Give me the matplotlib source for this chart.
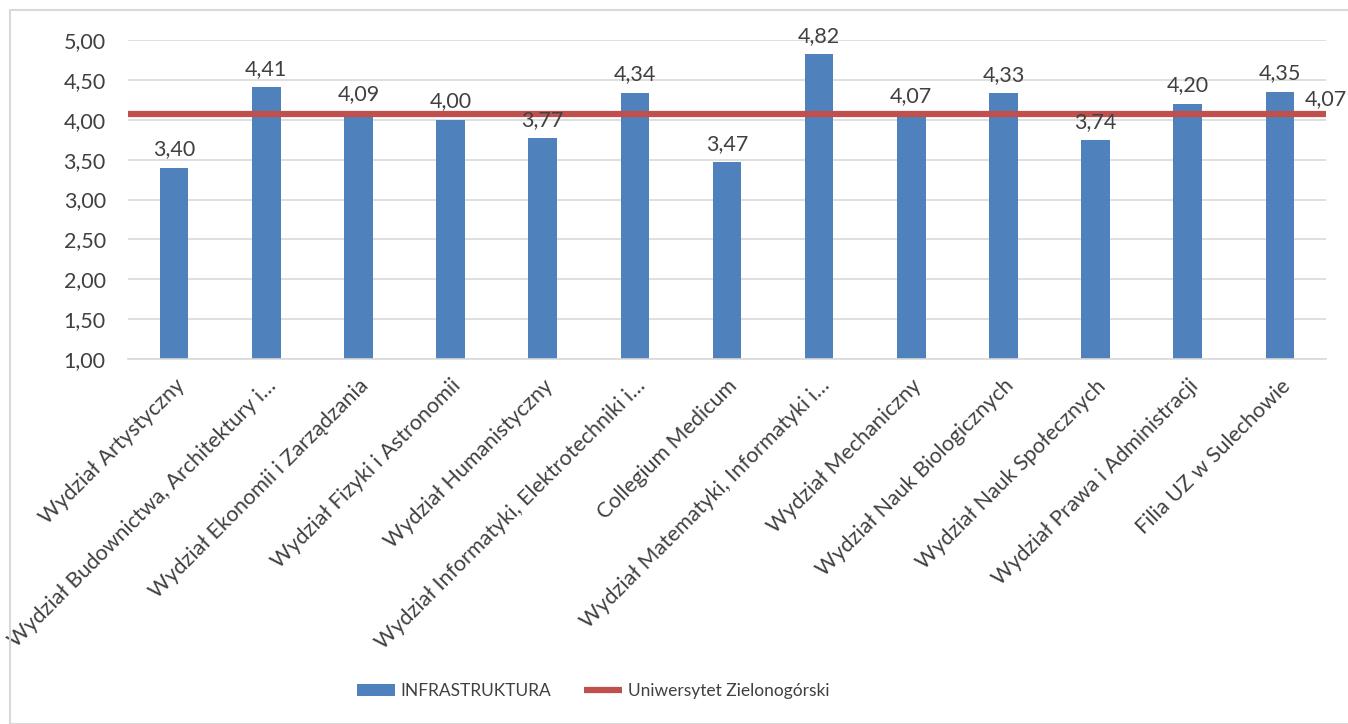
import matplotlib.pyplot as plt
from matplotlib.patches import Rectangle

categories = [
    "Wydział Artystyczny",
    "Wydział Budownictwa, Architektury i…",
    "Wydział Ekonomii i Zarządzania",
    "Wydział Fizyki i Astronomii",
    "Wydział Humanistyczny",
    "Wydział Informatyki, Elektrotechniki i…",
    "Collegium Medicum",
    "Wydział Matematyki, Informatyki i…",
    "Wydział Mechaniczny",
    "Wydział Nauk Biologicznych",
    "Wydział Nauk Społecznych",
    "Wydział Prawa i Administracji",
    "Filia UZ w Sulechowie",
]
infrastruktura = [3.40, 4.41, 4.09, 4.00, 3.77, 4.34, 3.47, 4.82, 4.07, 4.33, 3.74, 4.20, 4.35]
uz_mean = 4.07
y_ticks = [1.0, 1.5, 2.0, 2.5, 3.0, 3.5, 4.0, 4.5, 5.0]

plt.rcParams['font.family'] = ['Lato', 'DejaVu Sans']
txt = '#404040'

fig = plt.figure(figsize=(13.48, 7.24), dpi=100)
fig.patches.append(Rectangle((10 / 1348, 0), 1, 1 - 10 / 724, transform=fig.transFigure,
                             fill=False, edgecolor='#d9d9d9', linewidth=1.5))
ax = fig.add_axes([128 / 1348, 1 - 359 / 724, 1198 / 1348, 319 / 724])

x = list(range(len(categories)))
bars = ax.bar(x, [v - 1 for v in infrastruktura], bottom=1, width=0.31,
              color='#4f81bd', label='INFRASTRUKTURA', zorder=2)
line, = ax.plot([-0.5, len(categories) - 0.5], [uz_mean, uz_mean], color='#c0504d',
                linewidth=4.5, label='Uniwersytet Zielonogórski', zorder=3,
                solid_capstyle='butt', clip_on=False)

for xi, v in zip(x, infrastruktura):
    ax.annotate(f"{v:.2f}".replace('.', ','), (xi, v), xytext=(0, 6),
                textcoords='offset points', ha='center', va='bottom',
                fontsize=15.5, color=txt, zorder=4)
ax.annotate(f"{uz_mean:.2f}".replace('.', ','), (len(categories) - 0.5, uz_mean),
            xytext=(0, 4), textcoords='offset points', ha='center', va='bottom',
            fontsize=15.5, color=txt, annotation_clip=False, zorder=4)

ax.set_xlim(-0.5, len(categories) - 0.5)
ax.set_ylim(1, 5)
ax.set_yticks(y_ticks)
ax.set_yticklabels([f"{t:.2f}".replace('.', ',') for t in y_ticks])
ax.set_xticks(x)
ax.set_xticklabels(categories, rotation=45, ha='right', rotation_mode='anchor')
ax.tick_params(axis='both', length=0, labelsize=15.5, labelcolor=txt)
ax.tick_params(axis='y', pad=16)
ax.tick_params(axis='x', pad=12)
ax.grid(axis='y', color='#d9d9d9', linewidth=1.2, zorder=0)
for s in ['top', 'right', 'left']:
    ax.spines[s].set_visible(False)
ax.spines['bottom'].set_color('#d9d9d9')
ax.spines['bottom'].set_linewidth(1.2)

fig.legend(handles=[bars, line], loc='center', bbox_to_anchor=(593 / 1348, 1 - 691 / 724),
           ncol=2, frameon=False, fontsize=12.5, labelcolor=txt,
           handlelength=2.2, handleheight=0.75, columnspacing=1.9, handletextpad=0.3)

fig.savefig('out.png', dpi=100)
